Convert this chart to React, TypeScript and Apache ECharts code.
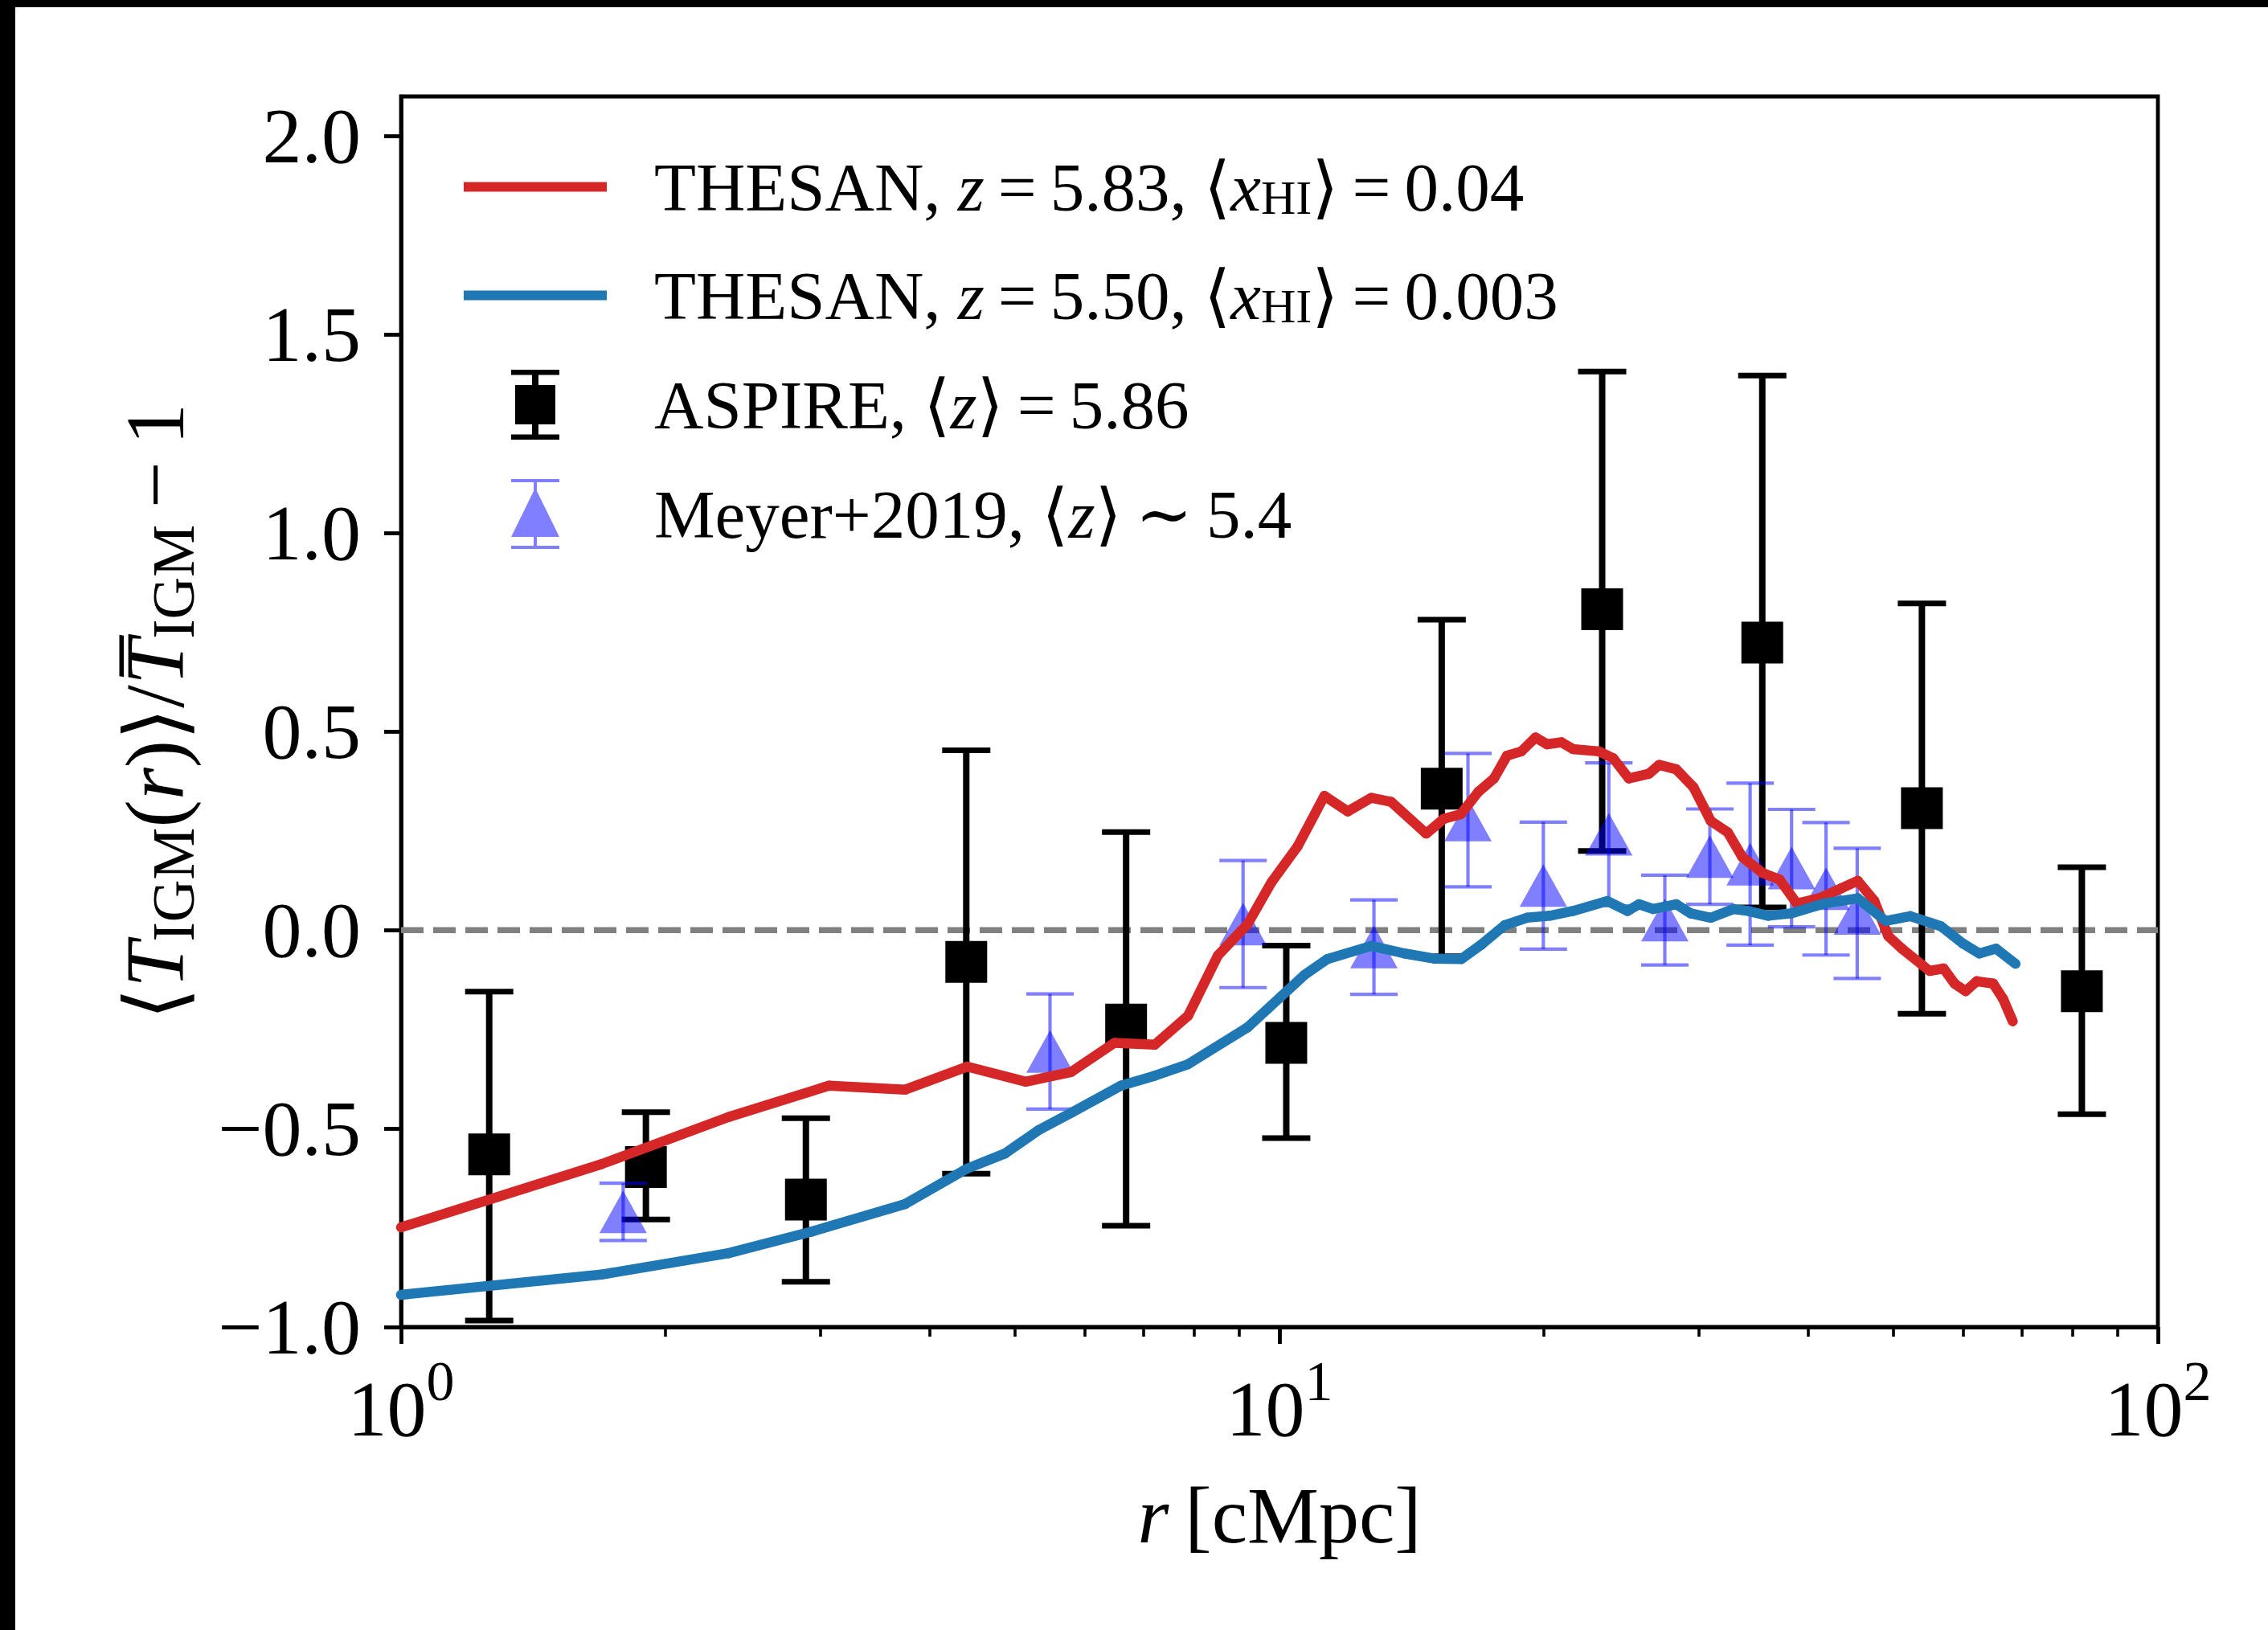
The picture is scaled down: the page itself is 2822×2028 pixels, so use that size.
import React, { useEffect, useRef } from 'react';
import * as echarts from 'echarts';

// ---------- data ----------
const aspireR = [1.26, 1.9, 2.89, 4.4, 6.69, 10.18, 15.3, 23.3, 35.45, 53.87, 81.93];
const aspireV = [-0.565, -0.597, -0.679, -0.08, -0.238, -0.284, 0.356, 0.808, 0.724, 0.307, -0.154];
const aspireLo = [-0.984, -0.729, -0.886, -0.614, -0.745, -0.524, -0.066, 0.199, 0.057, -0.211, -0.464];
const aspireHi = [-0.155, -0.459, -0.474, 0.453, 0.247, -0.039, 0.782, 1.407, 1.397, 0.823, 0.158];

const meyerR = [1.79, 5.48, 9.09, 12.81, 16.39, 19.97, 23.71, 27.46, 30.9, 34.34, 38.28, 41.9, 45.47];
const meyerV = [-0.71, -0.306, 0.015, -0.043, 0.277, 0.112, 0.241, 0.025, 0.185, 0.166, 0.156, 0.104, 0.042];
const meyerErr = [0.072, 0.145, 0.16, 0.119, 0.168, 0.16, 0.18, 0.113, 0.12, 0.204, 0.148, 0.167, 0.164];

const redR = [1.0, 1.69, 2.36, 3.07, 3.75, 4.41, 5.14, 5.79, 6.49, 7.21, 7.87, 8.51, 9.2, 9.79, 10.49, 11.25, 11.96, 12.72, 13.4, 14.69, 15.38, 16.09, 16.84, 17.55, 18.15, 18.85, 19.57, 20.17, 20.94, 21.58, 23.1, 23.98, 24.99, 26.35, 27.05, 28.29, 29.6, 30.97, 32.39, 33.64, 35.46, 37.1, 38.81, 41.14, 43.6, 45.53, 47.56, 49.32, 51.13, 54.97, 57.02, 58.69, 60.41, 62.2, 64.95, 66.63, 68.35];
const redV = [-0.749, -0.59, -0.471, -0.392, -0.402, -0.344, -0.382, -0.358, -0.284, -0.289, -0.216, -0.064, 0.015, 0.12, 0.211, 0.338, 0.299, 0.333, 0.323, 0.243, 0.28, 0.292, 0.348, 0.382, 0.439, 0.45, 0.485, 0.468, 0.473, 0.456, 0.45, 0.433, 0.382, 0.394, 0.416, 0.405, 0.36, 0.275, 0.246, 0.184, 0.144, 0.127, 0.067, 0.08, 0.105, 0.124, 0.073, -0.015, -0.047, -0.103, -0.097, -0.135, -0.154, -0.129, -0.135, -0.173, -0.23];

const blueR = [1.0, 1.69, 2.36, 2.93, 3.75, 4.41, 4.87, 5.31, 5.8, 6.6, 7.21, 7.87, 9.2, 10.68, 11.34, 12.72, 13.88, 15.01, 16.11, 16.97, 18.04, 19.13, 20.32, 21.58, 23.62, 24.9, 25.66, 26.64, 28.29, 29.38, 30.97, 32.89, 34.15, 36.0, 38.23, 41.73, 45.53, 48.97, 52.25, 56.58, 59.98, 62.64, 65.43, 68.85];
const blueV = [-0.919, -0.868, -0.814, -0.76, -0.69, -0.601, -0.563, -0.505, -0.46, -0.392, -0.367, -0.338, -0.245, -0.113, -0.073, -0.04, -0.059, -0.072, -0.073, -0.037, 0.012, 0.031, 0.036, 0.048, 0.073, 0.048, 0.065, 0.053, 0.065, 0.042, 0.031, 0.053, 0.048, 0.036, 0.042, 0.067, 0.08, 0.023, 0.035, 0.01, -0.034, -0.059, -0.047, -0.085];

const X_MIN = 1;
const X_MAX = 100;
const Y_MIN = -1;
const Y_MAX = 2.1;
const REF_LEVEL = 0;
const yTicks = [-1.0, -0.5, 0.0, 0.5, 1.0, 1.5, 2.0];
const xMinorTicks = [2, 3, 4, 5, 6, 7, 8, 9, 20, 30, 40, 50, 60, 70, 80, 90];

const NAME_RED = 'THESAN, z=5.83, <xHI>=0.04';
const NAME_BLUE = 'THESAN, z=5.50, <xHI>=0.003';
const NAME_ASPIRE = 'ASPIRE, <z>=5.86';
const NAME_MEYER = 'Meyer+2019, <z>~5.4';

const TS = '\u2009';
const legendRich: Record<string, string> = {
  [NAME_RED]: `{sp| }{n|THESAN, }{i|z}{n|${TS}=${TS}5.83, ⟨}{i|x}{s|HI}{n|⟩${TS}=${TS}0.04}`,
  [NAME_BLUE]: `{sp| }{n|THESAN, }{i|z}{n|${TS}=${TS}5.50, ⟨}{i|x}{s|HI}{n|⟩${TS}=${TS}0.003}`,
  [NAME_ASPIRE]: `{sp| }{n|ASPIRE, ⟨}{i|z}{n|⟩${TS}=${TS}5.86}`,
  [NAME_MEYER]: `{sp| }{n|Meyer+2019, ⟨}{i|z}{n|⟩${TS}∼${TS}5.4}`,
};

const FONT = "'Liberation Serif', 'Times New Roman', 'DejaVu Serif', serif";

const LINE_ICON = 'path://M0,0H178V12H0Z';
const ASPIRE_ICON = 'path://M0,0H60V6.5H0Z M26,6H34V81H26Z M5,19H55V68H5Z M0,80.5H60V87H0Z';
const MEYER_ICON = 'path://M0,0H60V4H0Z M28,4H32V83H28Z M0,83H60V87H0Z M30,11L60,72H0Z';

const RED = '#d62728';
const BLUE = '#1f77b4';
const MEYER_COL = 'rgba(0,0,255,0.5)';

function toSegments(xs: number[], ys: number[]) {
  const out: number[][] = [];
  for (let i = 0; i < xs.length - 1; i++) out.push([xs[i], ys[i], xs[i + 1], ys[i + 1]]);
  return out;
}

function segmentRenderer(stroke: string, width: number, dash?: number[]) {
  return (params: any, api: any) => {
    const a = api.coord([api.value(0), api.value(1)]);
    const b = api.coord([api.value(2), api.value(3)]);
    return {
      type: 'line',
      shape: { x1: a[0], y1: a[1], x2: b[0], y2: b[1] },
      style: { stroke, lineWidth: width, lineCap: dash ? 'butt' : 'round', lineDash: dash || null, fill: null },
    };
  };
}

export default function App() {
  const ref = useRef<HTMLDivElement>(null);

  useEffect(() => {
    const chart = echarts.init(ref.current as HTMLDivElement, null, { renderer: 'svg' });

    const redSeg = toSegments(redR, redV);
    const blueSeg = toSegments(blueR, blueV);
    const zeroSeg = [[X_MIN, REF_LEVEL, X_MAX, REF_LEVEL]];
    const aspireData = aspireR.map((r, i) => [r, aspireV[i], aspireLo[i], aspireHi[i]]);
    const meyerData = meyerR.map((r, i) => [r, meyerV[i], meyerV[i] - meyerErr[i], meyerV[i] + meyerErr[i]]);

    const grid = { left: 480, top: 111, width: 2186, height: 1531 };

    const option: any = {
      animation: false,
      backgroundColor: '#ffffff',
      textStyle: { fontFamily: FONT, color: '#000' },
      grid: [
        { ...grid, show: true, borderColor: '#000', borderWidth: 4.8, backgroundColor: 'transparent' },
        { ...grid, show: false },
      ],
      xAxis: [
        {
          type: 'log',
          logBase: 10,
          min: X_MIN,
          max: X_MAX,
          gridIndex: 0,
          position: 'bottom',
          splitNumber: 2,
          axisLine: { show: true, onZero: false, lineStyle: { color: '#000', width: 4.8 } },
          axisTick: { show: true, inside: false, length: 21, lineStyle: { color: '#000', width: 4.8 } },
          splitLine: { show: false },
          axisLabel: {
            margin: 32,
            color: '#000',
            formatter: (v: number) => `{b|10}{s|${Math.round(Math.log10(v))}}`,
            rich: {
              b: { fontFamily: FONT, fontSize: 98, lineHeight: 140, color: '#000' },
              s: { fontFamily: FONT, fontSize: 70, lineHeight: 38, verticalAlign: 'top', color: '#000' },
            },
          },
          name: '{i|r}{n|\u2009[cMpc]}',
          nameLocation: 'middle',
          nameGap: 174,
          nameTextStyle: {
            rich: {
              i: { fontFamily: FONT, fontSize: 100, fontStyle: 'italic', lineHeight: 120, color: '#000' },
              n: { fontFamily: FONT, fontSize: 100, lineHeight: 120, color: '#000' },
            },
          },
        },
        {
          type: 'value',
          gridIndex: 1,
          min: Math.log10(X_MIN),
          max: Math.log10(X_MAX),
          position: 'bottom',
          axisLine: { show: false, onZero: false },
          axisLabel: { show: false },
          splitLine: { show: false },
          axisTick: {
            show: true,
            inside: false,
            length: 12,
            customValues: xMinorTicks.map((t) => Math.log10(t)),
            lineStyle: { color: '#000', width: 3.6 },
          },
        },
      ],
      yAxis: [
        {
          type: 'value',
          gridIndex: 0,
          min: Y_MIN,
          max: Y_MAX,
          interval: 0.5,
          axisLine: { show: true, onZero: false, lineStyle: { color: '#000', width: 4.8 } },
          axisTick: { show: true, inside: false, length: 21, customValues: yTicks, lineStyle: { color: '#000', width: 4.8 } },
          splitLine: { show: false },
          axisLabel: {
            customValues: yTicks,
            margin: 50,
            fontFamily: FONT,
            fontSize: 98,
            color: '#000',
            formatter: (v: number) => v.toFixed(1).replace('-', '\u2212'),
          },
          name: `{n|⟨}{i|T}{s|IGM}{n|(}{i|r}{n|)⟩/}{i|T\u0305}{s|IGM}{n|\u2009\u2212\u20091}`,
          nameLocation: 'middle',
          nameRotate: 90,
          nameGap: 246,
          nameTextStyle: {
            rich: {
              n: { fontFamily: FONT, fontSize: 103, lineHeight: 120, color: '#000' },
              i: { fontFamily: FONT, fontSize: 103, fontStyle: 'italic', lineHeight: 120, color: '#000' },
              s: { fontFamily: FONT, fontSize: 73, lineHeight: 65, verticalAlign: 'bottom', color: '#000' },
            },
          },
        },
        { type: 'value', gridIndex: 1, min: Y_MIN, max: Y_MAX, show: false, axisLine: { onZero: false } },
      ],
      legend: {
        show: true,
        orient: 'vertical',
        left: 553,
        top: 176,
        itemWidth: 178,
        itemHeight: 87,
        itemGap: 49,
        selectedMode: false,
        symbolKeepAspect: true,
        data: [
          { name: NAME_RED, icon: LINE_ICON, itemStyle: { color: RED } },
          { name: NAME_BLUE, icon: LINE_ICON, itemStyle: { color: BLUE } },
          { name: NAME_ASPIRE, icon: ASPIRE_ICON, itemStyle: { color: '#000' } },
          { name: NAME_MEYER, icon: MEYER_ICON, itemStyle: { color: MEYER_COL } },
        ],
        formatter: (name: string) => legendRich[name] || name,
        textStyle: {
          color: '#000',
          rich: {
            sp: { width: 54, fontSize: 85, lineHeight: 87 },
            n: { fontFamily: FONT, fontSize: 85, lineHeight: 87, color: '#000' },
            i: { fontFamily: FONT, fontSize: 85, fontStyle: 'italic', lineHeight: 87, color: '#000' },
            s: { fontFamily: FONT, fontSize: 60, lineHeight: 39, verticalAlign: 'bottom', color: '#000' },
          },
        },
      },
      series: [
        {
          type: 'custom',
          name: 'zero',
          xAxisIndex: 0,
          yAxisIndex: 0,
          z: 1,
          silent: true,
          data: zeroSeg,
          encode: { x: [0, 2], y: [1, 3] },
          renderItem: segmentRenderer('#808080', 7.5, [28, 12]),
        },
        {
          type: 'custom',
          name: NAME_ASPIRE,
          xAxisIndex: 0,
          yAxisIndex: 0,
          z: 3,
          data: aspireData,
          encode: { x: 0, y: 1 },
          itemStyle: { color: '#000' },
          renderItem: (params: any, api: any) => {
            const x = api.value(0);
            const p = api.coord([x, api.value(1)]);
            const lo = api.coord([x, api.value(2)]);
            const hi = api.coord([x, api.value(3)]);
            const cap = 30;
            const half = 26;
            return {
              type: 'group',
              children: [
                { type: 'line', shape: { x1: p[0], y1: hi[1], x2: p[0], y2: lo[1] }, style: { stroke: '#000', lineWidth: 8 } },
                { type: 'line', shape: { x1: p[0] - cap, y1: hi[1], x2: p[0] + cap, y2: hi[1] }, style: { stroke: '#000', lineWidth: 7 } },
                { type: 'line', shape: { x1: p[0] - cap, y1: lo[1], x2: p[0] + cap, y2: lo[1] }, style: { stroke: '#000', lineWidth: 7 } },
                { type: 'rect', shape: { x: p[0] - half, y: p[1] - half, width: half * 2, height: half * 2 }, style: { fill: '#000' } },
              ],
            };
          },
        },
        {
          type: 'custom',
          name: NAME_MEYER,
          xAxisIndex: 0,
          yAxisIndex: 0,
          z: 4,
          data: meyerData,
          encode: { x: 0, y: 1 },
          itemStyle: { color: MEYER_COL },
          renderItem: (params: any, api: any) => {
            const x = api.value(0);
            const p = api.coord([x, api.value(1)]);
            const lo = api.coord([x, api.value(2)]);
            const hi = api.coord([x, api.value(3)]);
            const cap = 29.5;
            const hw = 29.5;
            const hh = 26.5;
            return {
              type: 'group',
              children: [
                { type: 'polygon', shape: { points: [[p[0], p[1] - hh], [p[0] + hw, p[1] + hh], [p[0] - hw, p[1] + hh]] }, style: { fill: MEYER_COL } },
                { type: 'line', shape: { x1: p[0], y1: hi[1], x2: p[0], y2: lo[1] }, style: { stroke: MEYER_COL, lineWidth: 4.2 } },
                { type: 'line', shape: { x1: p[0] - cap, y1: hi[1], x2: p[0] + cap, y2: hi[1] }, style: { stroke: MEYER_COL, lineWidth: 4.2 } },
                { type: 'line', shape: { x1: p[0] - cap, y1: lo[1], x2: p[0] + cap, y2: lo[1] }, style: { stroke: MEYER_COL, lineWidth: 4.2 } },
              ],
            };
          },
        },
        {
          type: 'custom',
          name: NAME_RED,
          xAxisIndex: 0,
          yAxisIndex: 0,
          z: 5,
          data: redSeg,
          encode: { x: [0, 2], y: [1, 3] },
          itemStyle: { color: RED },
          renderItem: segmentRenderer(RED, 12.5),
        },
        {
          type: 'custom',
          name: NAME_BLUE,
          xAxisIndex: 0,
          yAxisIndex: 0,
          z: 5,
          data: blueSeg,
          encode: { x: [0, 2], y: [1, 3] },
          itemStyle: { color: BLUE },
          renderItem: segmentRenderer(BLUE, 12.5),
        },
      ],
    };

    chart.setOption(option);
    return () => chart.dispose();
  }, []);

  return (
    <div style={{ position: 'fixed', left: 0, top: 0, width: 2822, height: 2028, background: '#000', overflow: 'hidden' }}>
      <div ref={ref} style={{ position: 'absolute', left: 19, top: 9, width: 2803, height: 2019, background: '#fff' }} />
    </div>
  );
}
